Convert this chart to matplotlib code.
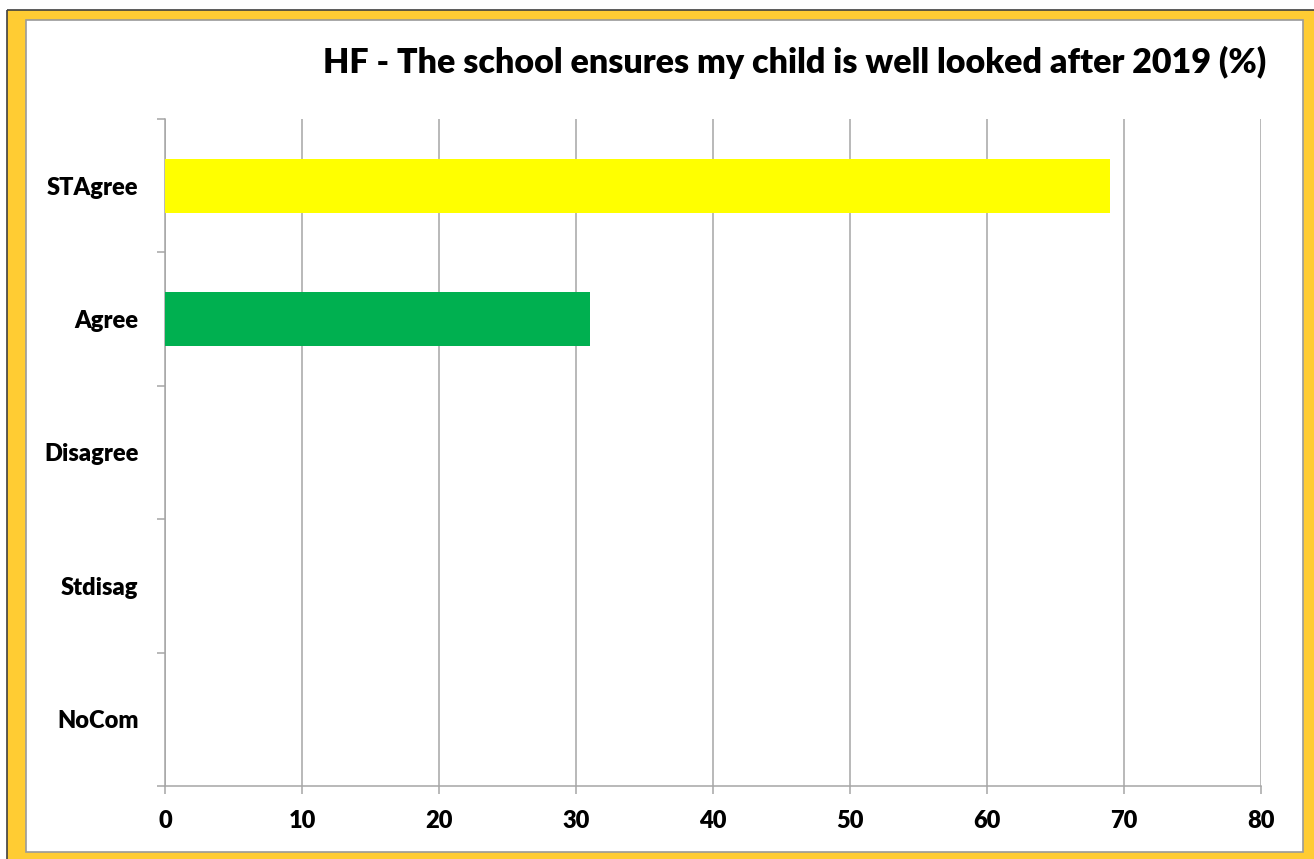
import matplotlib
matplotlib.use("Agg")
import matplotlib.pyplot as plt
from matplotlib.patches import Rectangle

categories = ["STAgree", "Agree", "Disagree", "Stdisag", "NoCom"]
values = [69, 31, 0, 0, 0]
bar_colors = ["#FFFF00", "#00B050", "#C00000", "#FF0000", "#7F7F7F"]
x_ticks = [0, 10, 20, 30, 40, 50, 60, 70, 80]
title = "HF - The school ensures my child is well looked after 2019 (%)"

W, H = 1314, 859
fig = plt.figure(figsize=(W / 100, H / 100), dpi=100)
fig.patch.set_facecolor("white")

# Yellow frame with a dark outer edge and white inner panel
fig.patches.append(Rectangle((7 / W, 0), 1 - 7 / W, 1 - 10 / H, transform=fig.transFigure,
                             facecolor="#FFCC33", edgecolor="none", zorder=0))
fig.patches.append(Rectangle((7 / W, 0), 0, 1 - 10 / H, transform=fig.transFigure,
                             facecolor="none", edgecolor="#404040", lw=1.2, zorder=1))
fig.patches.append(Rectangle((7 / W, 1 - 10 / H), 1 - 7 / W, 0, transform=fig.transFigure,
                             facecolor="none", edgecolor="#404040", lw=1.2, zorder=1))
fig.patches.append(Rectangle((26 / W, 1 - 852 / H), (1303 - 26) / W, (852 - 20) / H,
                             transform=fig.transFigure, facecolor="white",
                             edgecolor="#9A9A9A", lw=1.2, zorder=1))

ax = fig.add_axes([165 / W, 1 - 786 / H, (1261 - 165) / W, (786 - 119) / H])
ax.set_facecolor("none")
ax.set_zorder(2)

pos = list(range(len(categories)))
ax.barh(pos, values, height=0.405, color=bar_colors, zorder=3)

ax.set_xlim(0, 80)
ax.set_ylim(len(categories) - 0.5, -0.5)
ax.set_xticks(x_ticks)
ax.set_xticklabels([str(t) for t in x_ticks])
ax.set_yticks(pos)
ax.set_yticklabels(categories)
ax.set_yticks([p - 0.5 for p in range(len(categories) + 1)], minor=True)

grid_col = "#A6A6A6"
ax.grid(axis="x", color=grid_col, lw=1.1, zorder=1)
ax.grid(axis="y", visible=False)
for s in ["top", "right"]:
    ax.spines[s].set_visible(False)
for s in ["left", "bottom"]:
    ax.spines[s].set_color(grid_col)
    ax.spines[s].set_linewidth(1.1)

ax.tick_params(axis="y", which="major", length=0, pad=19, labelsize=17)
ax.tick_params(axis="y", which="minor", length=6, color=grid_col, width=1.1, direction="out")
ax.tick_params(axis="x", which="major", length=6, color=grid_col, width=1.1, pad=11, labelsize=17)
for lab in ax.get_xticklabels() + ax.get_yticklabels():
    lab.set_fontfamily("Lato")
    lab.set_fontweight(800)

fig.text(1266 / W, 1 - 62 / H, title, ha="right", va="center", fontsize=24.5,
         family="Lato", weight=800)

fig.savefig("out.png", dpi=100)
